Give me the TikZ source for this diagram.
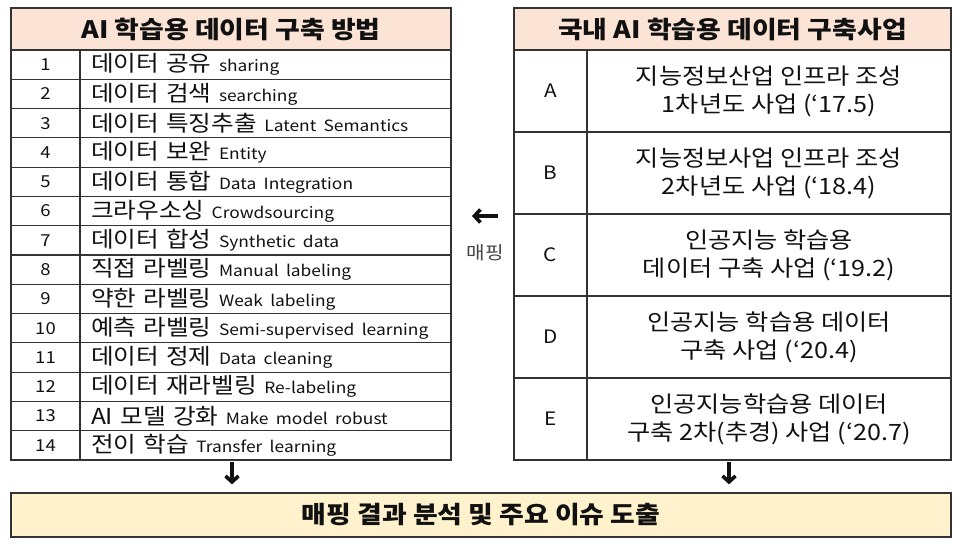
\documentclass[tikz,border=0pt]{standalone}
\usepackage{fontspec}
\setmainfont{Noto Sans CJK KR}[FakeStretch=1.12]
\usetikzlibrary{arrows.meta}
\definecolor{bg}{HTML}{FFFFFF}
\definecolor{rule}{HTML}{333333}
\definecolor{headbg}{HTML}{FBE4D5}
\definecolor{sumbg}{HTML}{FFF2CC}
\definecolor{ink}{HTML}{111111}
\definecolor{muted}{HTML}{444444}
\newcommand{\latfont}{\fontsize{15.5}{18}\selectfont}
\tikzset{
  cell/.style={draw=rule, line width=1.2pt, inner sep=0pt, text=ink},
  head/.style={cell, fill=headbg, minimum height=42pt, font=\fontsize{24}{27}\selectfont\bfseries},
  numcell/.style={cell, minimum width=69pt, minimum height=29.29pt, font=\fontsize{16.5}{18}\selectfont},
  itemcell/.style={cell, text width=349pt, inner xsep=11pt, align=left, minimum height=29.29pt, font=\fontsize{22}{24}\selectfont},
  keycell/.style={cell, minimum width=73pt, minimum height=82pt, font=\fontsize{18.5}{20}\selectfont},
  projcell/.style={cell, minimum width=364pt, minimum height=82pt, align=center, font=\fontsize{22.5}{28}\selectfont},
  sumbox/.style={cell, fill=sumbg, minimum width=940pt, minimum height=44pt, font=\fontsize{24}{26}\selectfont\bfseries},
  flow/.style={draw=ink, line width=3.6pt, -{Straight Barb[length=6pt,width=13pt]}},
  maplab/.style={text=muted, font=\fontsize{18}{20}\selectfont},
}
\begin{document}
\begin{tikzpicture}[x=1pt,y=-1pt]
  \fill[bg] (0,0) rectangle (960,546);
  \useasboundingbox (0,0) rectangle (960,546);
  % left table
  \node[head, minimum width=440pt] (lhead) at (231,29) {AI 학습용 데이터 구축 방법};
  \foreach \i/\ko/\lat in {1/데이터 공유/sharing, 2/데이터 검색/searching,
      3/데이터 특징추출/Latent Semantics, 4/데이터 보완/Entity,
      5/데이터 통합/Data Integration, 6/크라우소싱/Crowdsourcing,
      7/데이터 합성/Synthetic data, 8/직접 라벨링/Manual labeling,
      9/약한 라벨링/Weak labeling, 10/예측 라벨링/Semi-supervised learning,
      11/데이터 정제/Data cleaning, 12/데이터 재라벨링/Re-labeling,
      13/AI 모델 강화/Make model robust, 14/전이 학습/Transfer learning}{
    \node[numcell] (num\i) at (45.5,{50+(\i-0.5)*29.2857}) {\i};
    \node[itemcell] (item\i) at (265.5,{50+(\i-0.5)*29.2857}) {\ko\ {\latfont\lat}};
  }
  % right table
  \node[head, minimum width=437pt] (rhead) at (732.5,29) {국내 AI 학습용 데이터 구축사업};
  \foreach \j/\k/\a/\b in {1/A/지능정보산업 인프라 조성/1차년도 사업 (‘17.5),
      2/B/지능정보사업 인프라 조성/2차년도 사업 (‘18.4),
      3/C/인공지능 학습용/데이터 구축 사업 (‘19.2),
      4/D/인공지능 학습용 데이터/구축 사업 (‘20.4),
      5/E/인공지능학습용 데이터/구축 2차(추경) 사업 (‘20.7)}{
    \node[keycell] (key\k) at (550.5,{50+(\j-0.5)*82}) {\k};
    \node[projcell] (proj\k) at (769,{50+(\j-0.5)*82}) {\a\\\b};
  }
  % result
  \node[sumbox] (sum) at (481,515) {매핑 결과 분석 및 주요 이슈 도출};
  \coordinate (ldown) at (232,462);
  \coordinate (rdown) at (729,462);
  \draw[flow, shorten >=8pt] (ldown) -- (ldown |- sum.north);
  \draw[flow, shorten >=8pt] (rdown) -- (rdown |- sum.north);
  % mapping
  \coordinate (mapfrom) at (498,216);
  \coordinate (mapto) at (472,216);
  \draw[flow] (mapfrom) -- (mapto);
  \node[maplab] (map) at (485,253) {매핑};
\end{tikzpicture}
\end{document}
